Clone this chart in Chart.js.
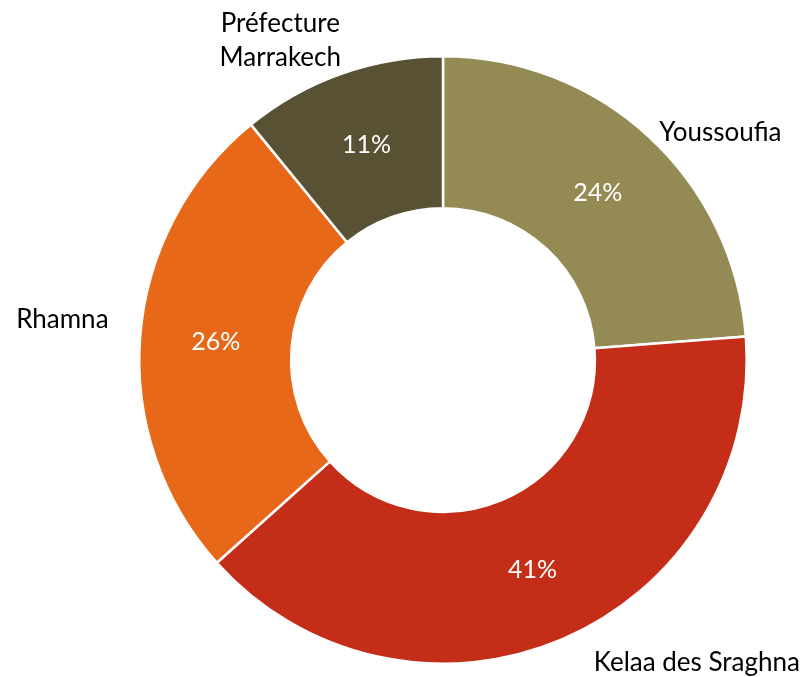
<!DOCTYPE html>
<html>
<head>
<meta charset="utf-8">
<script src="https://cdn.jsdelivr.net/npm/chart.js@4/dist/chart.umd.min.js"></script>
<style>
  html, body { margin: 0; padding: 0; background: #ffffff; }
  #wrap { width: 806px; height: 677px; }
</style>
</head>
<body>
<div id="wrap"><canvas id="chart-donut"></canvas></div>
<script>
// Data
const categories = ['Youssoufia', 'Kelaa des Sraghna', 'Rhamna', 'Préfecture\nMarrakech'];
const values = [24, 40, 26, 11];
const pctLabels = ['24%', '41%', '26%', '11%'];
const colors = ['#948A54', '#C42E19', '#E8681A', '#595133'];

// Outer label placement: angle from 12 o'clock (deg) and radius factor
const outerPlacement = [
  { angle: 50.7, r: 1.18 },
  { angle: 140, r: 1.30 },
  { angle: 276, r: 1.26 },
  { angle: 333, r: 1.18 }
];

const FONT = 'Lato, "Open Sans", sans-serif';

const labelPlugin = {
  id: 'donutLabels',
  afterDatasetsDraw(chart) {
    const ctx = chart.ctx;
    const arcs = chart.getDatasetMeta(0).data;
    ctx.save();
    ctx.textAlign = 'center';
    ctx.textBaseline = 'middle';
    arcs.forEach((arc, i) => {
      const p = arc.getProps(['x', 'y', 'startAngle', 'endAngle', 'innerRadius', 'outerRadius'], true);
      const mid = (p.startAngle + p.endAngle) / 2;
      const rm = (p.innerRadius + p.outerRadius) / 2;
      ctx.fillStyle = '#ffffff';
      ctx.font = '25px ' + FONT;
      ctx.fillText(pctLabels[i], p.x + Math.cos(mid) * rm, p.y + Math.sin(mid) * rm);

      // category labels
      const pl = outerPlacement[i];
      const a = (pl.angle - 90) * Math.PI / 180;
      const lx = p.x + Math.cos(a) * p.outerRadius * pl.r;
      const ly = p.y + Math.sin(a) * p.outerRadius * pl.r;
      const lines = categories[i].split('\n');
      ctx.fillStyle = '#000000';
      ctx.font = '26px ' + FONT;
      const lh = 34;
      lines.forEach((ln, k) => {
        ctx.fillText(ln, lx, ly + (k - (lines.length - 1) / 2) * lh);
      });
    });
    ctx.restore();
  }
};

new Chart(document.getElementById('chart-donut'), {
  type: 'doughnut',
  data: {
    labels: categories,
    datasets: [{
      data: values,
      backgroundColor: colors,
      borderColor: '#ffffff',
      borderWidth: 2.5
    }]
  },
  options: {
    responsive: true,
    maintainAspectRatio: false,
    animation: false,
    cutout: '50%',
    layout: { padding: { left: 138, right: 58, top: 55, bottom: 12 } },
    plugins: {
      legend: { display: false },
      tooltip: { enabled: false }
    }
  },
  plugins: [labelPlugin]
});
</script>
</body>
</html>
